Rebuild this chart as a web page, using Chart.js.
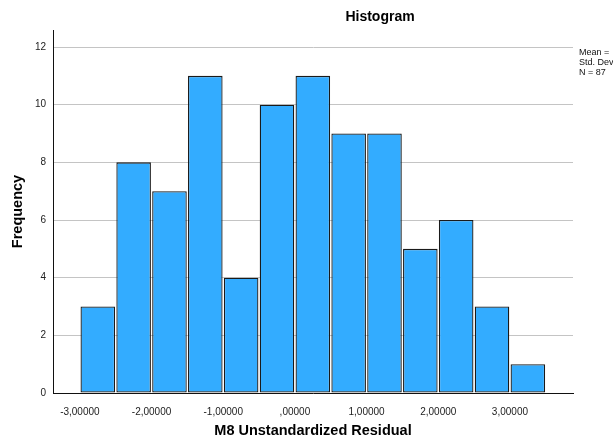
<!DOCTYPE html>
<html>
<head>
<meta charset="utf-8">
<script src="https://cdn.jsdelivr.net/npm/chart.js@4.4.1/dist/chart.umd.min.js"></script>
<style>
  html, body { margin: 0; padding: 0; background: #fff; }
  #wrap { width: 613px; height: 439px; position: relative; }
</style>
</head>
<body>
<div id="wrap"><canvas id="c" width="613" height="439"></canvas></div>
<script>
// ---- data ----
const binStarts = [-3, -2.5, -2, -1.5, -1, -0.5, 0, 0.5, 1, 1.5, 2, 2.5, 3];
const binWidth = 0.5;
const frequencies = [3, 8, 7, 11, 4, 10, 11, 9, 9, 5, 6, 3, 1];
const xTicks = [-3, -2, -1, 0, 1, 2, 3];
const yTicks = [0, 2, 4, 6, 8, 10, 12];
const chartTitle = 'Histogram';
const xTitle = 'M8 Unstandardized Residual';
const yTitle = 'Frequency';
const statsLines = ['Mean = ', 'Std. Dev', 'N = 87'];

const FONT = '"Liberation Sans", Arial, sans-serif';

function fmtTick(v) {
  let s = Math.abs(v).toFixed(5).replace('.', ',');
  if (s.startsWith('0,')) s = s.slice(1);
  return (v < 0 ? '-' : '') + s;
}

const textPlugin = {
  id: 'texts',
  afterDraw(chart) {
    const ctx = chart.ctx;
    const a = chart.chartArea;
    ctx.save();
    ctx.fillStyle = '#000';
    ctx.textBaseline = 'middle';
    // chart title
    ctx.font = 'bold 14px ' + FONT;
    ctx.textAlign = 'center';
    ctx.fillText(chartTitle, 380, 17);
    // x title
    ctx.font = 'bold 14.5px ' + FONT;
    ctx.fillText(xTitle, (a.left + a.right) / 2, 431);
    // y title
    ctx.save();
    ctx.translate(18, (a.top + a.bottom) / 2);
    ctx.rotate(-Math.PI / 2);
    ctx.fillText(yTitle, 0, 0);
    ctx.restore();
    // stats
    ctx.font = '9px ' + FONT;
    ctx.textAlign = 'left';
    ctx.fillStyle = '#111';
    statsLines.forEach((t, i) => ctx.fillText(t, 579, 53 + i * 10));
    ctx.restore();
  }
};

new Chart(document.getElementById('c'), {
  type: 'bar',
  data: {
    datasets: [{
      data: binStarts.map((s, i) => ({ x: s + binWidth / 2, y: frequencies[i] })),
      backgroundColor: '#33acff',
      borderColor: '#1a1a1a',
      borderWidth: 1.3,
      borderSkipped: false,
      barPercentage: 0.965,
      categoryPercentage: 1
    }]
  },
  options: {
    responsive: false,
    animation: false,
    layout: { padding: { left: 0, right: 40, top: 30, bottom: 0 } },
    plugins: { legend: { display: false }, tooltip: { enabled: false } },
    scales: {
      x: {
        type: 'linear',
        min: -3.375,
        max: 3.88,
        offset: false,
        grid: { display: false },
        border: { display: true, color: '#111', width: 1 },
        afterBuildTicks: s => { s.ticks = xTicks.map(v => ({ value: v })); },
        afterFit: s => { s.height = 46; },
        ticks: {
          font: { family: FONT, size: 10 },
          color: '#222',
          padding: 5,
          maxRotation: 0,
          autoSkip: false,
          callback: v => fmtTick(v)
        }
      },
      y: {
        min: 0,
        max: 12.59,
        grid: { color: '#c4c4c4', drawTicks: false, lineWidth: 1 },
        border: { display: true, color: '#111', width: 1 },
        afterBuildTicks: s => { s.ticks = yTicks.map(v => ({ value: v })); },
        afterFit: s => { s.width = 53; },
        ticks: {
          font: { family: FONT, size: 10 },
          color: '#222',
          padding: 7,
          callback: v => String(v)
        }
      }
    }
  },
  plugins: [textPlugin]
});
</script>
</body>
</html>
